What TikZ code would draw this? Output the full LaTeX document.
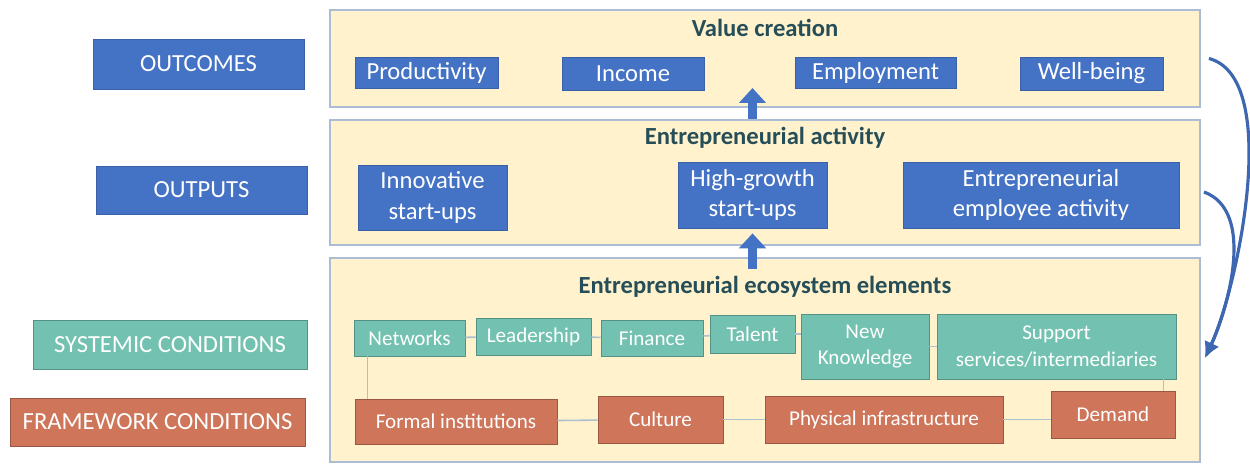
\documentclass[tikz,border=0pt]{standalone}
\usepackage{fontspec}
\setmainfont{Carlito}
\usepackage{xcolor}
\usepackage{tikz}
\usetikzlibrary{arrows.meta,positioning,calc}
\definecolor{boxblue}{RGB}{68,114,196}
\definecolor{boxteal}{RGB}{115,194,177}
\definecolor{boxorange}{RGB}{206,117,90}
\definecolor{panelfill}{RGB}{255,242,204}
\definecolor{panelline}{RGB}{172,188,212}
\definecolor{titletext}{RGB}{38,78,88}
\definecolor{linkline}{RGB}{172,192,206}
\newcommand{\bigfont}{\fontsize{14}{17}\selectfont}
\newcommand{\smallfont}{\fontsize{12}{15}\selectfont}

\begin{document}
\begin{tikzpicture}[x=0.02cm,y=-0.02cm,
    panel/.style={draw=panelline,line width=1.2pt,fill=panelfill,minimum width=17.4cm,inner sep=0pt},
    title/.style={font=\bigfont\bfseries,text=titletext},
    bluebox/.style={fill=boxblue,draw=boxblue!85!black,line width=0.4pt,text=white,font=\bigfont,align=center,inner sep=0pt},
    tealbox/.style={fill=boxteal,draw=boxteal!75!black,line width=0.4pt,text=white,font=\smallfont,align=center,inner sep=0pt},
    orangebox/.style={fill=boxorange,draw=boxorange!75!black,line width=0.4pt,text=white,font=\smallfont,align=center,inner sep=0pt},
    link/.style={draw=linkline,line width=0.9pt},
    uparrow/.style={draw=boxblue,line width=5pt,-{Triangle[width=15pt,length=8.5pt]}},
    loop/.style={draw=boxblue!90!black,line width=1.8pt,-{Latex[length=9pt,width=9pt]}}]
    \useasboundingbox (0,0) rectangle (1250,465);

    % Row labels
    \node[bluebox,minimum width=4.22cm,minimum height=1cm] (outcomes) at (198.5,64) {OUTCOMES};
    \node[bluebox,minimum width=4.22cm,minimum height=0.96cm] (outputs) at (201.5,190) {OUTPUTS};
    \node[tealbox,font=\bigfont,minimum width=5.48cm,minimum height=0.98cm] (systemic) at (170,344.5) {SYSTEMIC CONDITIONS};
    \node[orangebox,font=\bigfont,minimum width=5.9cm,minimum height=0.96cm] (framework) at (157.5,422) {FRAMEWORK CONDITIONS};

    % Panels
    \node[panel,minimum height=1.94cm] (p1) at (765,58.5) {};
    \node[panel,minimum height=2.5cm] (p2) at (765,182.5) {};
    \node[panel,minimum height=4.08cm] (p3) at (765,360) {};
    \node[title] (t1) at (765,28) {Value creation};
    \node[title] (t2) at (765,138) {Entrepreneurial activity};
    \node[title] (t3) at (765,287) {Entrepreneurial ecosystem elements};

    % Outcomes
    \node[bluebox,minimum width=2.86cm,minimum height=0.62cm] (prod) at (426.5,72.5) {Productivity};
    \node[bluebox,minimum width=2.84cm,minimum height=0.66cm] (income) at (633,73.5) {Income};
    \node[bluebox,minimum width=3.22cm,minimum height=0.62cm] (employ) at (875.5,72.5) {Employment};
    \node[bluebox,minimum width=2.86cm,minimum height=0.66cm] (wellbeing) at (1091.5,73.5) {Well-being};

    % Outputs
    \node[bluebox,font=\fontsize{14}{17.5}\selectfont,minimum width=2.98cm,minimum height=1.3cm] (innov) at (432.5,197.5) {Innovative\\start-ups};
    \node[bluebox,font=\fontsize{14}{17.5}\selectfont,minimum width=2.98cm,minimum height=1.32cm] (highg) at (752.5,195) {High-growth\\start-ups};
    \node[bluebox,font=\fontsize{14}{17.5}\selectfont,minimum width=5.52cm,minimum height=1.32cm] (empact) at (1041,195) {Entrepreneurial\\employee activity};

    % Systemic conditions
    \node[tealbox,minimum width=2.22cm,minimum height=0.72cm] (netw) at (409.5,338) {Networks};
    \node[tealbox,minimum width=2.3cm,minimum height=0.74cm] (lead) at (533.5,336.5) {Leadership};
    \node[tealbox,minimum width=2.04cm,minimum height=0.72cm] (fin) at (652,338) {Finance};
    \node[tealbox,minimum width=1.7cm,minimum height=0.76cm] (talent) at (752.5,334) {Talent};
    \node[tealbox,minimum width=2.56cm,minimum height=1.3cm] (newk) at (865,346.5) {New\\Knowledge};
    \node[tealbox,minimum width=4.78cm,minimum height=1.3cm] (supp) at (1056.5,346.5) {Support\\services/intermediaries};

    % Framework conditions
    \node[orangebox,minimum width=4.04cm,minimum height=0.9cm] (formal) at (456,421.5) {Formal institutions};
    \node[orangebox,minimum width=2.5cm,minimum height=0.94cm] (culture) at (660.5,419.5) {Culture};
    \node[orangebox,minimum width=4.76cm,minimum height=0.94cm] (phys) at (884,419.5) {Physical infrastructure};
    \node[orangebox,minimum width=2.48cm,minimum height=0.94cm] (demand) at (1113,414.5) {Demand};

    % Links between elements
    \draw[link] (netw) -- (lead);
    \draw[link] (lead) -- (fin);
    \draw[link] (fin) -- (talent);
    \draw[link] (talent.east) -- (talent.east -| newk.west);
    \draw[link] (newk) -- (supp);
    \draw[link] (formal) -- (culture);
    \draw[link] (culture) -- (phys);
    \draw[link] (phys.east) -- (phys.east -| demand.west);
    \draw[link] ([xshift=0.28cm]netw.south west) -- ([xshift=0.28cm]netw.south west |- formal.north);
    \draw[link] ([xshift=-0.26cm]supp.south east) -- ([xshift=-0.26cm]supp.south east |- demand.north);

    % Upward arrows
    \draw[uparrow] (p2.north -| highg) -- ([yshift=0.4cm]p1.south -| highg);
    \draw[uparrow] ([yshift=-0.24cm]p3.north -| highg) -- ([yshift=-0.1cm]highg.south);

    % Feedback arrows
    \coordinate (loopend) at ([xshift=0.08cm,yshift=0.04cm]p3.east);
    \draw[loop] ([xshift=0.16cm]p1.east) to[out=-15,in=65,looseness=0.65] (loopend);
    \draw[loop] ([xshift=0.06cm,yshift=-0.19cm]p2.east) to[out=-20,in=65,looseness=0.85] (loopend);
\end{tikzpicture}
\end{document}
